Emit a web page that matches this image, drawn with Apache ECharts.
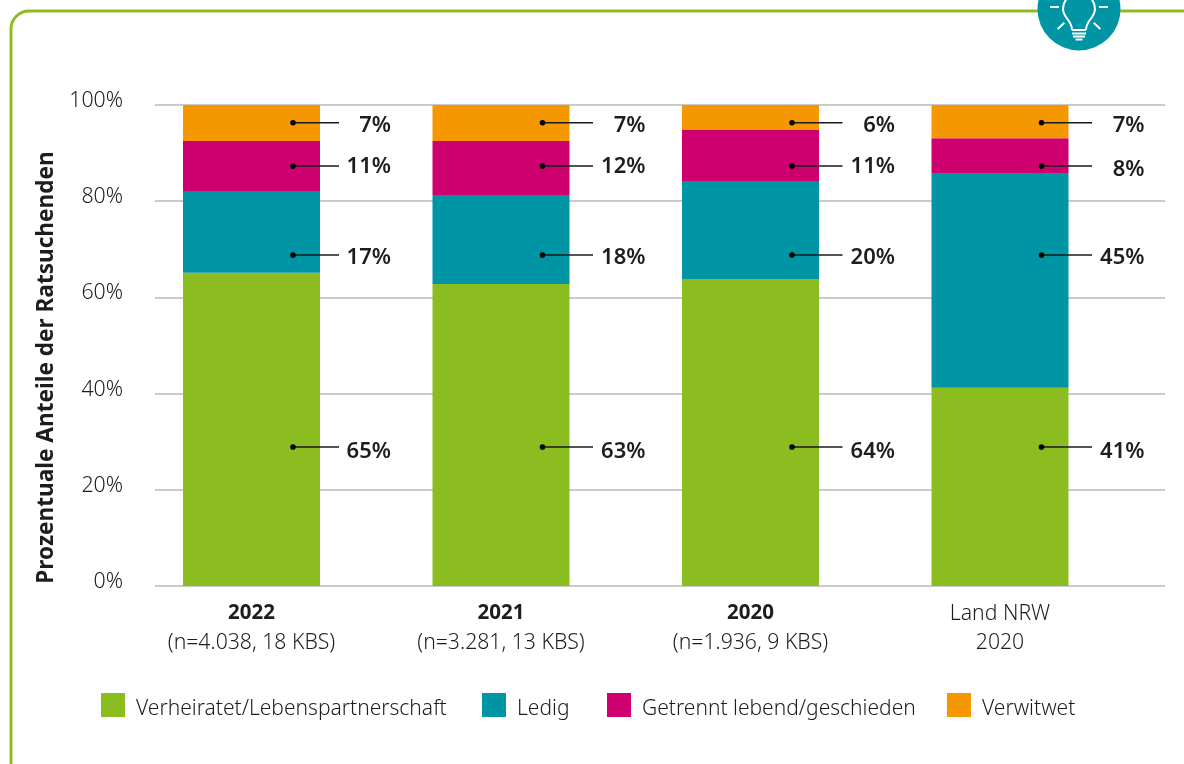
<!DOCTYPE html>
<html><head><meta charset="utf-8">
<style>html,body{margin:0;padding:0;background:#fff}#c{width:1184px;height:764px}</style>
<script src="https://cdn.jsdelivr.net/npm/echarts@6/dist/echarts.min.js"></script>
</head><body><div id="c"></div>
<script>
const years = ['2022', '2021', '2020', 'Land NRW'];
const subLabels = ['(n=4.038, 18 KBS)', '(n=3.281, 13 KBS)', '(n=1.936, 9 KBS)', '2020'];
const seriesNames = ['Verheiratet/Lebenspartnerschaft', 'Ledig', 'Getrennt lebend/geschieden', 'Verwitwet'];
const verheiratet = [65.1, 62.8, 63.8, 41.2];
const ledig = [17.0, 18.5, 20.4, 44.5];
const getrennt = [10.4, 11.2, 10.6, 7.4];
const verwitwet = [7.5, 7.5, 5.2, 6.9];
const labelsVerheiratet = ['65%', '63%', '64%', '41%'];
const labelsLedig = ['17%', '18%', '20%', '45%'];
const labelsGetrennt = ['11%', '12%', '11%', '8%'];
const labelsVerwitwet = ['7%', '7%', '6%', '7%'];
const yTicks = [0, 20, 40, 60, 80, 100];

const colors = ['#8BBD21', '#0095A5', '#CE006F', '#F59700'];
const FONT = '"Noto Sans"';
const INK = '#1d1d1b';
const allValues = [verheiratet, ledig, getrennt, verwitwet];
const allLabels = [labelsVerheiratet, labelsLedig, labelsGetrennt, labelsVerwitwet];
const leaderLevels = [28.9, 68.8, 87.3, 96.3];
const labelDy = [5, 3, 1, 3];
const lineEnd = [87.5, 92, 92, 92];
const labelRight = [139.5, 144.5, 144.5, 144.5];
const legendLefts = [101, 482, 607, 947];

const barSeries = allValues.map((vals, i) => ({
  name: seriesNames[i], type: 'bar', stack: 'total', barWidth: 137,
  xAxisIndex: 1, yAxisIndex: 1, data: vals,
  itemStyle: { color: colors[i] }, emphasis: { disabled: true }, animation: false
}));

const leaderData = [];
allLabels.forEach((labs, s) => labs.forEach((t, c) => leaderData.push([c, leaderLevels[s], t, s])));

const leaders = {
  type: 'custom', xAxisIndex: 1, yAxisIndex: 1, z: 10, animation: false, silent: true,
  encode: { x: 0, y: 1 }, data: leaderData,
  renderItem(params, api) {
    const c = api.value(0), s = api.value(3);
    const p = api.coord([c, api.value(1)]);
    const extra = (c === 3 && s === 2) ? 3 : 0;
    return { type: 'group', children: [
      { type: 'line', shape: { x1: p[0] + 41.5, y1: p[1], x2: p[0] + lineEnd[c], y2: p[1] }, style: { stroke: '#1a1a1a', lineWidth: 1.5 } },
      { type: 'circle', shape: { cx: p[0] + 41.5, cy: p[1], r: 2.8 }, style: { fill: '#000' } },
      { type: 'text', style: { x: p[0] + labelRight[c], y: p[1] + labelDy[s] + extra, text: api.value(2), align: 'right', verticalAlign: 'middle',
        fill: INK, font: '600 22px ' + FONT } }
    ] };
  }
};
const W = { stroke: '#fff', lineWidth: 2 };
const wl = (x1, y1, x2, y2) => ({ type: 'line', shape: { x1, y1, x2, y2 }, style: W });

const chart = echarts.init(document.getElementById('c'), null, { renderer: 'canvas' });
chart.setOption({
  animation: false, backgroundColor: '#fff',
  grid: [
    { left: 155, right: 19, top: 105, height: 481 },
    { left: 126.75, width: 998, top: 105, height: 481 }
  ],
  xAxis: [
    { type: 'category', gridIndex: 0, show: false, data: years },
    { type: 'category', gridIndex: 1, data: years,
      axisLine: { show: false }, axisTick: { show: false },
      axisLabel: { margin: 13, interval: 0, color: INK, fontFamily: FONT, lineHeight: 29,
        formatter: (v, i) => (i < 3 ? '{b|' + v + '}' : '{r|' + v + '}') + '\n{r|' + subLabels[i] + '}',
        rich: { b: { fontFamily: FONT, fontSize: 20.5, fontWeight: 700, color: INK, lineHeight: 29 },
                r: { fontFamily: FONT, fontSize: 21.2, fontWeight: 300, color: INK, lineHeight: 29 } } } }
  ],
  yAxis: [
    { type: 'value', gridIndex: 0, min: 0, max: 100, interval: 20,
      axisLine: { show: false }, axisTick: { show: false },
      axisLabel: { margin: 32, color: INK, fontFamily: FONT, fontSize: 21.3, fontWeight: 300, verticalAlign: 'bottom', lineHeight: 8,
        formatter: v => yTicks.includes(v) ? v + '%' : '' },
      splitLine: { lineStyle: { color: '#b9b9b9', width: 1.5 } },
      name: 'Prozentuale Anteile der Ratsuchenden', nameLocation: 'middle', nameGap: 96, nameRotate: 90,
      nameTextStyle: { color: INK, fontFamily: FONT, fontSize: 22.6, fontWeight: 700, padding: [0, 44, 0, 0] } },
    { type: 'value', gridIndex: 1, min: 0, max: 100, interval: 20, show: false, splitLine: { show: false } }
  ],
  legend: seriesNames.map((name, i) => ({
    left: legendLefts[i], top: 693, padding: 0, itemWidth: 24, itemHeight: 24, icon: 'rect', selectedMode: false,
    data: [name], formatter: n => '{a|' + n + '}',
    textStyle: { color: INK, rich: { a: { color: INK, fontFamily: FONT, fontSize: 21, fontWeight: 300, padding: [8, 0, 0, 6] } } } })),
  series: [...barSeries, leaders],
  graphic: { elements: [
    { type: 'rect', silent: true, z: -1, shape: { x: 11, y: 11, width: 1400, height: 1000, r: 18 }, style: { fill: 'none', stroke: '#8BBD21', lineWidth: 3 } },
    { type: 'group', silent: true, x: 1079, y: 9, children: [
      { type: 'circle', shape: { cx: 0, cy: 0, r: 41.5 }, style: { fill: '#0095A5' } },
      { type: 'arc', shape: { cx: 0, cy: 0, r: 16, startAngle: Math.PI, endAngle: 0, clockwise: true }, style: { fill: 'none', stroke: '#fff', lineWidth: 2 } },
      { type: 'bezierCurve', shape: { x1: -16, y1: 0, cpx1: -16, cpy1: 9, cpx2: -7, cpy2: 11, x2: -7, y2: 21 }, style: { fill: 'none', stroke: '#fff', lineWidth: 2 } },
      { type: 'bezierCurve', shape: { x1: 16, y1: 0, cpx1: 16, cpy1: 9, cpx2: 7, cpy2: 11, x2: 7, y2: 21 }, style: { fill: 'none', stroke: '#fff', lineWidth: 2 } },
      wl(-7, 21, 7, 21), wl(-7, 24.5, 7, 24.5), wl(-6, 27.5, 6, 27.5), wl(-3.5, 30.5, 3.5, 30.5),
      wl(-29, -2, -20, -2), wl(20, -2, 29, -2),
      wl(-21.3, 20, -14.7, 13.7), wl(21.3, 20, 14.7, 13.7)
    ] }
  ] }
});
</script></body></html>
